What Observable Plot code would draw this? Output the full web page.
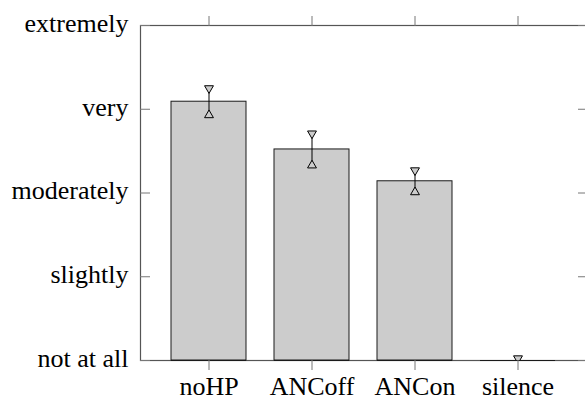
<!DOCTYPE html>
<html><head><meta charset="utf-8">
<script src="https://cdn.jsdelivr.net/npm/d3@7"></script>
<script src="https://cdn.jsdelivr.net/npm/@observablehq/plot@0.6"></script>
<style>
html,body{margin:0;padding:0;background:#fff}
svg{display:block}
</style>
</head><body><div id="chart"></div>
<script>
const categories = ["noHP", "ANCoff", "ANCon", "silence"];
const means = [3.09, 2.52, 2.14, 0];
const errors = [0.16, 0.19, 0.13, 0.025];
const levelValues = [0, 1, 2, 3, 4];
const levelLabels = ["not at all", "slightly", "moderately", "very", "extremely"];

const data = categories.map((c, i) => ({
  cat: c, mean: means[i], lo: means[i] - errors[i], hi: means[i] + errors[i]
}));

const FONT = "Liberation Serif, Times New Roman, serif";
const chart = Plot.plot({
  width: 585, height: 400,
  marginLeft: 140, marginRight: -2, marginTop: 25, marginBottom: 40,
  style: "background:#fff;color:#000;overflow:hidden;font-family:Liberation Serif, serif;font-size:26px;",
  x: {type: "band", domain: categories, paddingInner: 0.268, paddingOuter: 0.289, label: null},
  y: {domain: [0, 4], label: null},
  marks: [
    Plot.frame({stroke: "#555", strokeWidth: 1.2}),
    Plot.barY(data, {x: "cat", y: "mean", fill: "#cccccc", stroke: "#1a1a1a", strokeWidth: 1}),
    Plot.tickY(data, {x: "cat", y: 0, stroke: "#1a1a1a", strokeWidth: 1.2}),
    Plot.ruleX(data, {x: "cat", y1: "lo", y2: "hi", stroke: "#000", strokeWidth: 1, clip: true}),
    Plot.dot(data, {x: "cat", y: "lo", symbol: "triangle", r: 3.3, fill: "#cccccc", stroke: "#000", strokeWidth: 1, clip: true}),
    Plot.dot(data, {x: "cat", y: "hi", symbol: "triangle", rotate: 180, r: 3.3, fill: "#cccccc", stroke: "#000", strokeWidth: 1, clip: true}),
    Plot.axisY({anchor: "left", ticks: levelValues, tickSize: 0, tickPadding: 12, dy: -2,
      tickFormat: d => levelLabels[d], fontSize: 26, fontFamily: FONT, label: null}),
    Plot.axisY({anchor: "left", ticks: levelValues, tickSize: -10, tickFormat: () => "", stroke: "#777", label: null}),
    Plot.axisY({anchor: "right", ticks: levelValues, tickSize: -10, tickFormat: () => "", stroke: "#777", label: null}),
    Plot.axisX({anchor: "bottom", tickSize: 10, tickPadding: 6, fontSize: 26, fontFamily: FONT, stroke: "#777", label: null}),
    Plot.axisX({anchor: "top", tickSize: 10, tickFormat: () => "", stroke: "#777", label: null})
  ]
});
document.getElementById("chart").appendChild(chart);
</script>
</body></html>
